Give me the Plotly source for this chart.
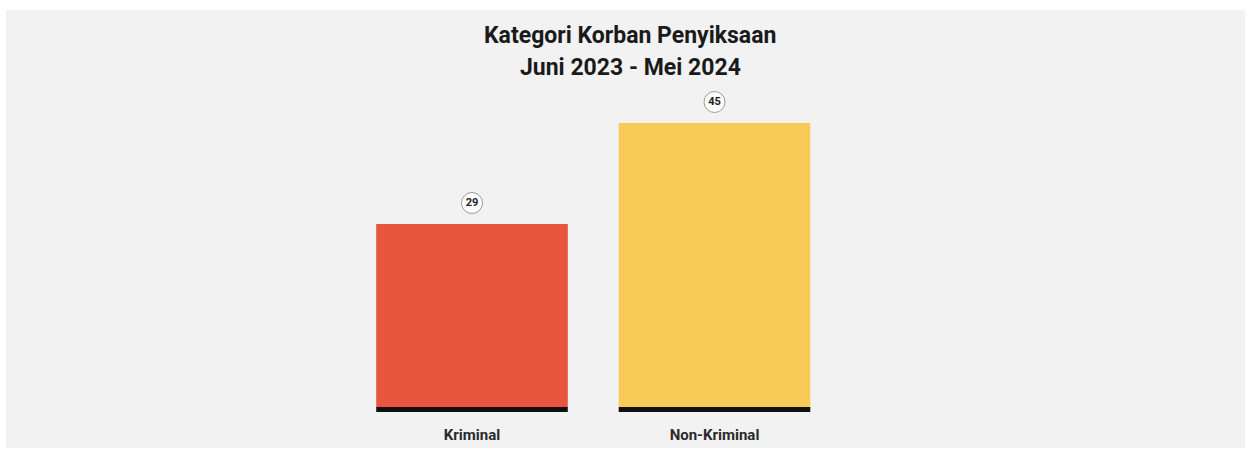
import plotly.graph_objects as go

# Data
categories = ["Kriminal", "Non-Kriminal"]
victims = [29, 45]
bar_colors = ["#e9553f", "#f7cb55"]

title_lines = ["Kategori Korban Penyiksaan", "Juni 2023 - Mei 2024"]

W, H = 1250, 452
MARGIN_B = 32
plot_h = H - MARGIN_B

# vertical scale: value 0 sits at y=407px, 45 at ~123px
px_per_unit = (407 - 123) / 45
y_top = 407 / px_per_unit
y_bottom = -(plot_h - 407) / px_per_unit

# horizontal scale: bar centres at ~472px and ~714px
px_per_cat = 242.5
x_left = -472 / px_per_cat
x_right = x_left + W / px_per_cat

FONT = "Roboto, Liberation Sans, sans-serif"

base_thick = 5 / px_per_unit   # thickness of the black foot under each bar
badge_gap = 21 / px_per_unit   # distance of the value badge above a bar

fig = go.Figure()

fig.add_trace(go.Bar(
    x=categories, y=victims,
    marker=dict(color=bar_colors, line=dict(width=0)),
    width=0.79,
    hoverinfo="x+y",
))

# black foot under each bar
fig.add_trace(go.Bar(
    x=categories, y=[base_thick] * len(categories),
    base=[-base_thick] * len(categories),
    marker=dict(color="#111111", line=dict(width=0)),
    width=0.79,
    hoverinfo="skip",
))

# round value badges
fig.add_trace(go.Scatter(
    x=categories,
    y=[v + badge_gap for v in victims],
    mode="markers+text",
    text=["<b>%d</b>" % v for v in victims],
    textposition="middle center",
    textfont=dict(family=FONT, size=11, color="#222222"),
    marker=dict(symbol="circle", size=21, color="#ffffff",
                line=dict(color="#9a9a9a", width=1)),
    hoverinfo="skip",
))

fig.update_layout(
    width=W, height=H,
    margin=dict(l=0, r=0, t=0, b=MARGIN_B),
    paper_bgcolor="#ffffff",
    plot_bgcolor="rgba(0,0,0,0)",
    barmode="overlay",
    showlegend=False,
    xaxis=dict(range=[x_left, x_right], showgrid=False, zeroline=False,
               showline=False, ticks="",
               tickfont=dict(family=FONT, size=15, color="#2a2a2a", weight="bold"),
               ticklabelstandoff=4),
    yaxis=dict(range=[y_bottom, y_top], visible=False, showgrid=False,
               zeroline=False),
    shapes=[dict(
        type="rect", xref="paper", yref="paper",
        x0=6 / W, x1=1245 / W,
        y0=(plot_h - 448) / plot_h, y1=1 - 10 / plot_h,
        fillcolor="#f2f2f2", line=dict(width=0), layer="below",
    )],
    annotations=[
        dict(text="<b>%s</b>" % title_lines[0], xref="paper", yref="paper",
             x=630 / W, y=1 - 35 / plot_h, showarrow=False,
             font=dict(family=FONT, size=23, color="#1a1a1a"),
             xanchor="center", yanchor="middle"),
        dict(text="<b>%s</b>" % title_lines[1], xref="paper", yref="paper",
             x=630 / W, y=1 - 68 / plot_h, showarrow=False,
             font=dict(family=FONT, size=23, color="#1a1a1a"),
             xanchor="center", yanchor="middle"),
    ],
)

fig.write_html("out.html")
